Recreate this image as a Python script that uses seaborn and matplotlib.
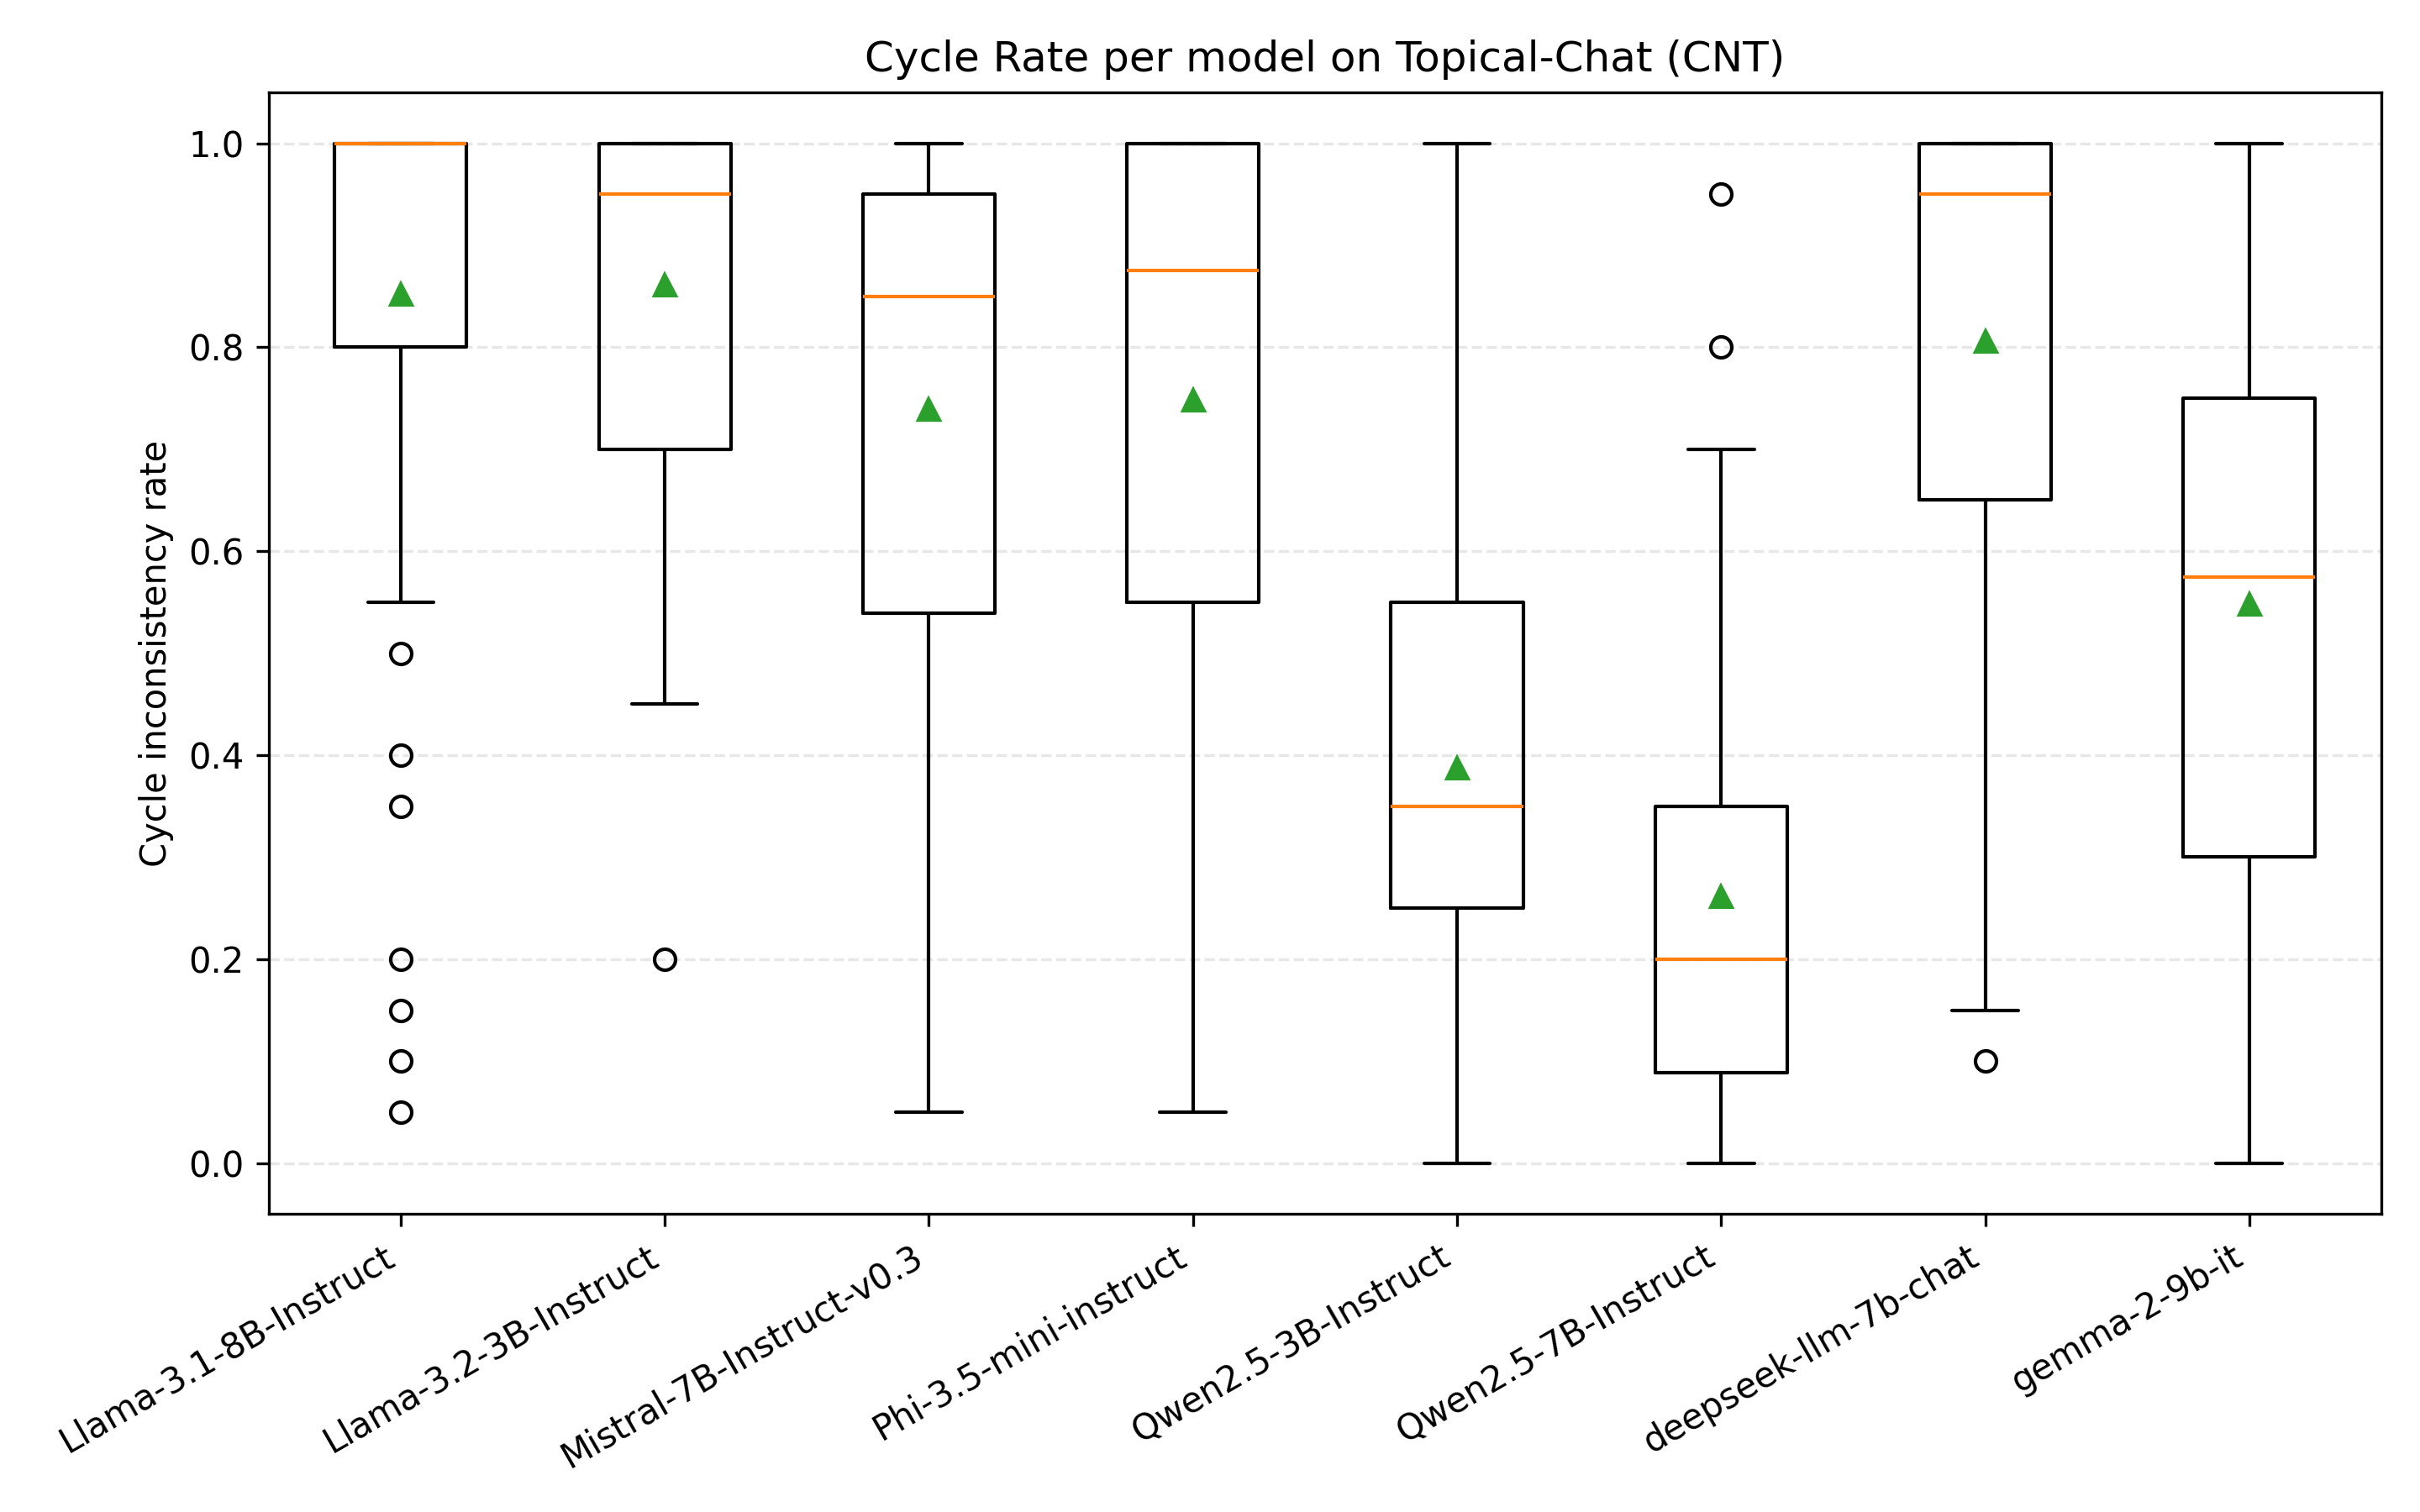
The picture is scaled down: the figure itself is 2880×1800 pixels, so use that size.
import matplotlib
matplotlib.use("Agg")
import matplotlib.pyplot as plt
import seaborn as sns

models = ["Llama-3.1-8B-Instruct", "Llama-3.2-3B-Instruct", "Mistral-7B-Instruct-v0.3",
          "Phi-3.5-mini-instruct", "Qwen2.5-3B-Instruct", "Qwen2.5-7B-Instruct",
          "deepseek-llm-7b-chat", "gemma-2-9b-it"]
whisker_low = [0.55, 0.45, 0.05, 0.05, 0.00, 0.00, 0.15, 0.00]
q1_values = [0.80, 0.70, 0.539, 0.55, 0.25, 0.089, 0.65, 0.30]
medians = [1.00, 0.95, 0.85, 0.875, 0.35, 0.20, 0.95, 0.575]
q3_values = [1.00, 1.00, 0.95, 1.00, 0.55, 0.35, 1.00, 0.75]
whisker_high = [1.00, 1.00, 1.00, 1.00, 1.00, 0.70, 1.00, 1.00]
means = [0.852, 0.861, 0.739, 0.748, 0.388, 0.262, 0.806, 0.548]
outliers = [[0.50, 0.40, 0.35, 0.20, 0.15, 0.10, 0.05], [0.20], [], [], [], [0.95, 0.80], [0.10], []]

sns.set_theme(style="ticks", rc={
    "font.family": ["DejaVu Sans"],
    "font.size": 10, "axes.labelsize": 10, "axes.titlesize": 12,
    "xtick.labelsize": 10, "ytick.labelsize": 10,
    "axes.edgecolor": "black", "axes.linewidth": 0.8,
    "text.color": "black", "axes.labelcolor": "black",
    "xtick.color": "black", "ytick.color": "black",
    "xtick.major.size": 3.5, "ytick.major.size": 3.5,
    "xtick.major.width": 0.8, "ytick.major.width": 0.8,
})

stats = []
for i, m in enumerate(models):
    stats.append({"label": m, "whislo": whisker_low[i], "q1": q1_values[i], "med": medians[i],
                  "q3": q3_values[i], "whishi": whisker_high[i], "mean": means[i],
                  "fliers": outliers[i]})

fig, ax = plt.subplots(figsize=(9.6, 6), dpi=300)
ax.bxp(stats, showmeans=True, widths=0.5,
       boxprops=dict(color="black", linewidth=1.0),
       whiskerprops=dict(color="black", linewidth=1.0),
       capprops=dict(color="black", linewidth=1.0),
       medianprops=dict(color="#ff7f0e", linewidth=1.0),
       meanprops=dict(marker="^", markerfacecolor="#2ca02c", markeredgecolor="#2ca02c", markersize=6),
       flierprops=dict(marker="o", markerfacecolor="none", markeredgecolor="black", markersize=6))
ax.set_title("Cycle Rate per model on Topical-Chat (CNT)")
ax.set_ylabel("Cycle inconsistency rate")
ax.yaxis.grid(True, linestyle="--", color="#b0b0b0", alpha=0.3, linewidth=0.8)
ax.xaxis.grid(False)
ax.set_axisbelow(True)
plt.setp(ax.get_xticklabels(), rotation=30, ha="right")
fig.subplots_adjust(left=0.111, right=0.984, top=0.939, bottom=0.197)
fig.savefig("out.png", dpi=300)
